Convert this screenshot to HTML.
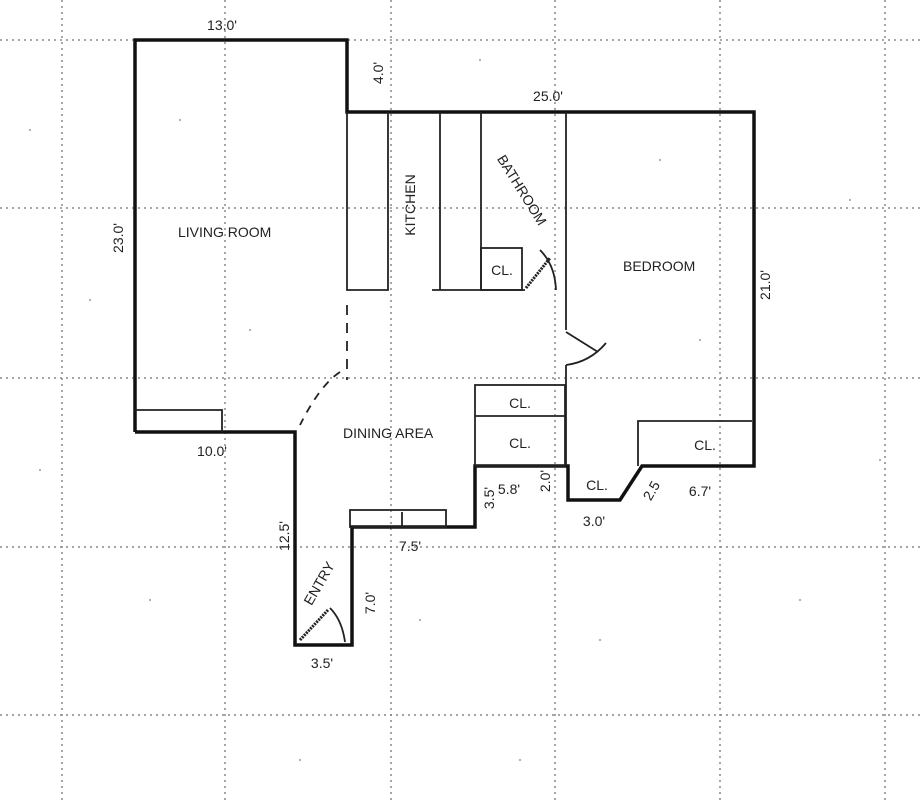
<!DOCTYPE html>
<html><head><meta charset="utf-8"><style>
html,body{margin:0;padding:0;background:#fff}
svg{display:block}
text{font-family:"Liberation Sans",sans-serif;fill:#222;font-size:14px}
</style></head><body>
<svg width="921" height="800" viewBox="0 0 921 800" xmlns="http://www.w3.org/2000/svg">
<rect width="921" height="800" fill="#fff"/>
<g stroke="#888" stroke-width="1.5" stroke-dasharray="2,4" fill="none">
<line x1="0" y1="40" x2="921" y2="40"/>
<line x1="0" y1="208" x2="921" y2="208"/>
<line x1="0" y1="378" x2="921" y2="378"/>
<line x1="0" y1="547" x2="921" y2="547"/>
<line x1="0" y1="715" x2="921" y2="715"/>
<line x1="62" y1="0" x2="62" y2="800"/>
<line x1="225" y1="0" x2="225" y2="800"/>
<line x1="391" y1="0" x2="391" y2="800"/>
<line x1="555" y1="0" x2="555" y2="800"/>
<line x1="720" y1="0" x2="720" y2="800"/>
<line x1="885" y1="0" x2="885" y2="800"/>
</g>
<g fill="#999">
<circle cx="30" cy="130" r="1"/><circle cx="90" cy="300" r="1"/><circle cx="180" cy="120" r="1"/><circle cx="250" cy="330" r="1"/>
<circle cx="420" cy="620" r="1"/><circle cx="600" cy="640" r="1"/><circle cx="800" cy="600" r="1"/><circle cx="850" cy="200" r="1"/>
<circle cx="660" cy="160" r="1"/><circle cx="700" cy="340" r="1"/><circle cx="150" cy="600" r="1"/><circle cx="520" cy="760" r="1"/>
<circle cx="40" cy="470" r="1"/><circle cx="880" cy="460" r="1"/><circle cx="300" cy="760" r="1"/><circle cx="480" cy="60" r="1"/>
</g>
<g stroke="#111" stroke-width="3.5" fill="none" stroke-linejoin="miter">
<polyline points="135,432 135,40 347,40 347,112 754,112 754,466 642,466 620,500 568,500 568,466 475,466 475,527 352,527 352,645 295,645 295,432 135,432"/>
</g>
<g stroke="#222" stroke-width="1.8" fill="none">
<polyline points="347,112 347,290 388,290 388,112"/>
<line x1="440" y1="112" x2="440" y2="290"/>
<line x1="481" y1="112" x2="481" y2="290"/>
<line x1="432" y1="290" x2="525" y2="290"/>
<rect x="481" y="248" width="41" height="42"/>
<line x1="566" y1="112" x2="566" y2="330"/>
<line x1="566" y1="365" x2="566" y2="466"/>
<polyline points="566,332 598,352"/>
<path d="M566,365 Q590,362 606,343"/>
<path d="M540,250 Q555,265 556,290"/>
<line x1="526" y1="288" x2="550" y2="258" stroke-width="3" stroke-dasharray="2,1"/>
<rect x="475" y="385" width="90" height="81"/>
<line x1="475" y1="416" x2="565" y2="416"/>
<polyline points="638,466 638,421 752,421"/>
<polyline points="135,410 222,410 222,432"/>
<rect x="350" y="510" width="96" height="17"/>
<line x1="402" y1="512" x2="402" y2="527"/>
<line x1="347" y1="305" x2="347" y2="380" stroke-dasharray="10,8"/>
<path d="M340,372 Q320,385 300,425" stroke-dasharray="8,7"/>
<line x1="300" y1="640" x2="328" y2="610" stroke-width="3" stroke-dasharray="2,1"/>
<path d="M330,608 Q342,620 345,642"/>
</g>
<text x="222" y="30" text-anchor="middle">13.0'</text>
<text x="372" y="92" text-anchor="middle" transform="rotate(-90 368 77)">4.0'</text>
<text x="548" y="101" text-anchor="middle">25.0'</text>
<text x="178" y="237">LIVING ROOM</text>
<text x="123" y="238" text-anchor="middle" transform="rotate(-90 123 238)">23.0'</text>
<text x="420" y="210" text-anchor="middle" transform="rotate(-90 415 210)">KITCHEN</text>
<text x="522" y="195" text-anchor="middle" transform="rotate(58 522 190)">BATHROOM</text>
<text x="502" y="275" text-anchor="middle">CL.</text>
<text x="623" y="271">BEDROOM</text>
<text x="775" y="290" text-anchor="middle" transform="rotate(-90 770 290)">21.0'</text>
<text x="520" y="408" text-anchor="middle">CL.</text>
<text x="520" y="448" text-anchor="middle">CL.</text>
<text x="705" y="450" text-anchor="middle">CL.</text>
<text x="343" y="438">DINING AREA</text>
<text x="212" y="456" text-anchor="middle">10.0'</text>
<text x="597" y="490" text-anchor="middle">CL.</text>
<text x="509" y="494" text-anchor="middle">5.8'</text>
<text x="494" y="498" text-anchor="middle" transform="rotate(-90 494 498)">3.5'</text>
<text x="554" y="485" text-anchor="middle" transform="rotate(-90 550 485)">2.0'</text>
<text x="594" y="526" text-anchor="middle">3.0'</text>
<text x="655" y="498" text-anchor="middle" transform="rotate(-60 651 495)">2.5</text>
<text x="700" y="496" text-anchor="middle">6.7'</text>
<text x="410" y="551" text-anchor="middle">7.5'</text>
<text x="288" y="545" text-anchor="middle" transform="rotate(-90 284 540)">12.5'</text>
<text x="374" y="612" text-anchor="middle" transform="rotate(-90 370 607)">7.0'</text>
<text x="320" y="590" text-anchor="middle" transform="rotate(-60 318 585)">ENTRY</text>
<text x="322" y="668" text-anchor="middle">3.5'</text>
</svg>
</body></html>
